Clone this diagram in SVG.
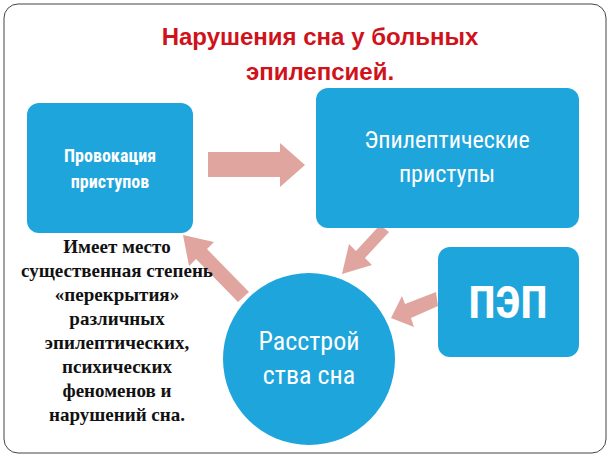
<svg xmlns="http://www.w3.org/2000/svg" width="610" height="457" viewBox="0 0 610 457">
<style>
.box{fill:#1ea5dc}
.w{fill:#fff;font-family:"Liberation Sans Narrow","Roboto Condensed","Liberation Sans",sans-serif;text-anchor:middle}
.t{font-family:"Liberation Serif",serif;font-weight:bold;font-size:19px;text-anchor:middle;fill:#111}
.arr{fill:#e0a59e}
</style>
<rect x="4" y="4" width="602" height="449" rx="14" fill="#fff" stroke="#444" stroke-width="1"/>
<text x="320" y="45" font-family="Liberation Sans,sans-serif" font-weight="bold" font-size="24" fill="#d0121b" text-anchor="middle">Нарушения сна у больных</text>
<text x="320" y="80" font-family="Liberation Sans,sans-serif" font-weight="bold" font-size="24" fill="#d0121b" text-anchor="middle">эпилепсией.</text>
<g id="connectors">
<polygon class="arr" points="208,152 280,152 280,143 305,165 280,187 280,177 208,177"/>
<polygon class="arr" points="389,232 365,258 372,265 342,274 349,244 356,251 380,225"/>
<polygon class="arr" points="436,292 405,304 402,296 391,318 414,327 411,318 438,306"/>
<polygon class="arr" points="249,292 207,249 214,242 183,235 189,266 196,259 238,302"/>
</g>
<g id="n1"><rect class="box" x="27" y="103" width="166" height="130" rx="12"/>
<text class="w" x="110" y="162" font-size="18" font-weight="bold">Провокация</text>
<text class="w" x="110" y="188" font-size="18" font-weight="bold">приступов</text></g>
<g id="n2"><rect class="box" x="316" y="88" width="263" height="140" rx="12"/>
<text class="w" x="447" y="148" font-size="24">Эпилептические</text>
<text class="w" x="447" y="182" font-size="24">приступы</text></g>
<g id="n3"><rect class="box" x="438" y="247" width="141" height="110" rx="12"/>
<text class="w" x="508" y="318" font-size="44" font-weight="bold">ПЭП</text></g>
<g id="n4"><circle class="box" cx="309" cy="359" r="86"/>
<text class="w" x="309" y="350" font-size="26">Расстрой</text>
<text class="w" x="309" y="384" font-size="26">ства сна</text></g>
<g id="note">
<text class="t" x="117" y="253">Имеет место</text>
<text class="t" x="117" y="277">существенная степень</text>
<text class="t" x="117" y="301" fill="#c0101a">«перекрытия»</text>
<text class="t" x="117" y="325">различных</text>
<text class="t" x="117" y="349">эпилептических,</text>
<text class="t" x="117" y="373">психических</text>
<text class="t" x="117" y="397">феноменов и</text>
<text class="t" x="117" y="421">нарушений сна.</text>
</g>
</svg>
